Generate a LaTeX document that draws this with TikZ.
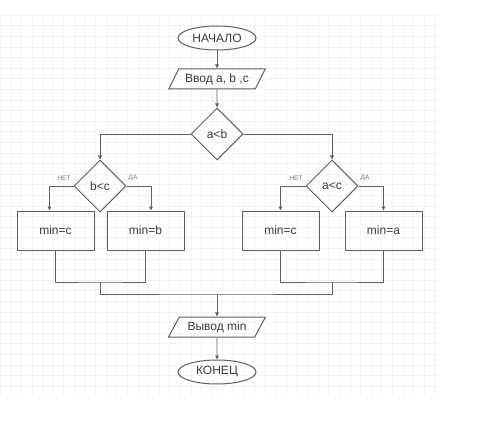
\documentclass[tikz,border=0pt]{standalone}
\usepackage{fontspec}
\setmainfont{Liberation Sans}
\usetikzlibrary{shapes.geometric,arrows.meta}
\definecolor{ln}{HTML}{606060}
\definecolor{tx}{HTML}{3A3A3A}
\definecolor{gridc}{HTML}{F4F4F4}
\tikzset{
  every node/.style={text=tx, font=\fontsize{12}{13}\selectfont},
  term/.style={ellipse, draw=ln, line width=1pt, minimum width=78pt, minimum height=24pt, inner sep=0pt},
  io/.style={trapezium, trapezium left angle=53, trapezium right angle=127, trapezium stretches=true, draw=ln, line width=1pt, minimum width=97pt, minimum height=20pt, inner sep=0pt},
  dec/.style={diamond, aspect=1, draw=ln, line width=1pt, minimum size=52pt, inner sep=0pt},
  proc/.style={rectangle, draw=ln, line width=1pt, minimum width=77pt, minimum height=39pt, inner sep=0pt},
  lbl/.style={font=\fontsize{6.5}{7}\selectfont, text=gray},
  wire/.style={draw=ln, line width=0.9pt},
  arr/.style={wire, -{Triangle[length=4pt,width=3.5pt]}}
}
\begin{document}
\begin{tikzpicture}[x=1pt,y=-1pt]
\useasboundingbox (0,0) rectangle (500,422);
\fill[white] (0,0) rectangle (500,422);
% faint grid
\foreach \i in {0,...,41} {\draw[gridc, line width=0.5pt] ({\i*10.6},15) -- ({\i*10.6},395);}
\foreach \j in {0,...,35} {\draw[gridc, line width=0.5pt] (0,{15+\j*10.6}) -- (437,{15+\j*10.6});}

\node[term] (start) at (217,38) {НАЧАЛО};
\node[io] (in) at (217,79) {Ввод a, b ,c};
\node[dec] (ab) at (217,134) {a<b};
\node[dec] (bc) at (100,186) {b<c};
\node[dec] (ac) at (332,186) {a<c};
\node[proc] (c1) at (55.5,230.5) {min=c};
\node[proc] (b1) at (145.5,230.5) {min=b};
\node[proc] (c2) at (280.5,230.5) {min=c};
\node[proc] (a1) at (383.5,230.5) {min=a};
\node[io] (out) at (217,327) {Вывод min};
\node[term] (end) at (217,372) {КОНЕЦ};

\node[lbl] (n1) at (64,178) {НЕТ};
\node[lbl] (d1) at (133,178) {ДА};
\node[lbl] (n2) at (296,178) {НЕТ};
\node[lbl] (d2) at (365,178) {ДА};

\draw[arr] (start) -- (in);
\draw[arr] (in) -- (ab);
\draw[arr] (ab.west) -| (bc.north);
\draw[arr] (ab.east) -| (ac.north);
\draw[arr] (bc.west) -| ([xshift=-6pt]c1.north);
\draw[arr] (bc.east) -| ([xshift=5.5pt]b1.north);
\draw[arr] (ac.west) -| (c2.north);
\draw[arr] (ac.east) -| (a1.north);

\coordinate (jl) at (100,282);
\coordinate (jr) at (332,282);
\coordinate (j) at (217,294);
\draw[wire] (c1.south) |- (jl) -| (b1.south);
\draw[wire] (c2.south) |- (jr) -| (a1.south);
\draw[wire] (jl) |- (j) -| (jr);
\draw[arr] (j) -- (out);
\draw[arr] (out) -- (end);
\end{tikzpicture}
\end{document}
